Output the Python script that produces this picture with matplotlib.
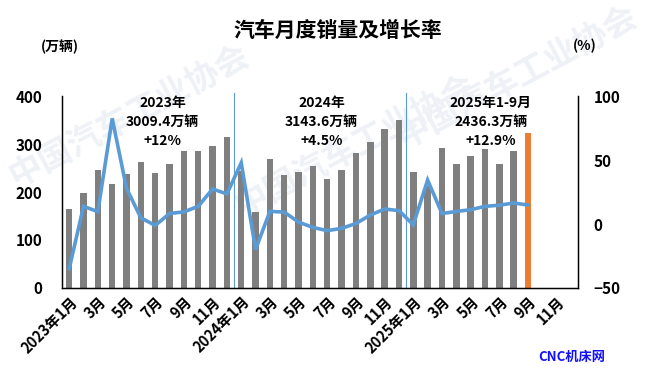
import matplotlib
matplotlib.use("Agg")
import matplotlib.pyplot as plt
import matplotlib.transforms as mtransforms
import numpy as np

plt.rcParams['font.family'] = ['Noto Sans CJK SC', 'DejaVu Sans']

# monthly sales (10k vehicles), 2023-01 .. 2025-09
sales = [164.9, 197.6, 245.1, 215.9, 238.2, 262.2, 238.7, 258.2, 285.8, 285.3, 297.0, 315.6,
         243.9, 158.4, 269.4, 235.9, 241.7, 255.2, 226.2, 245.3, 280.9, 305.3, 331.6, 349.9,
         242.3, 212.9, 291.5, 259.0, 274.8, 290.4, 259.3, 285.7, 322.6]
# year-on-year growth (%)
growth = [-35.0, 13.8, 9.7, 82.5, 27.9, 4.8, -1.1, 8.2, 9.5, 13.8, 27.4, 23.5,
          47.9, -19.9, 9.9, 9.3, 1.5, -2.7, -5.2, -3.4, 0.4, 7.0, 11.7, 10.5,
          -0.6, 34.4, 8.2, 9.8, 11.2, 13.8, 14.7, 16.4, 14.9]
n_months = 36
tick_labels = ['2023年1月', '3月', '5月', '7月', '9月', '11月',
               '2024年1月', '3月', '5月', '7月', '9月', '11月',
               '2025年1月', '3月', '5月', '7月', '9月', '11月']
year_notes = [('2023年', '3009.4万辆', '+12%'),
              ('2024年', '3143.6万辆', '+4.5%'),
              ('2025年1-9月', '2436.3万辆', '+12.9%')]
note_x = [6.5, 17.6, 29.4]
year_breaks = [11.5, 23.5]

fig = plt.figure(figsize=(6.46, 3.86), dpi=100)
ax = fig.add_axes([0.096, 0.254, 0.799, 0.497])
ax.patch.set_visible(False)
ax2 = ax.twinx()

# faint watermark behind the axes
for wx, wy in [(0.2, 0.7), (0.55, 0.62), (0.8, 0.8)]:
    fig.text(wx, wy, '中国汽车工业协会', fontsize=24, fontweight='bold', color='#eef1f6',
             rotation=28, ha='center', va='center', zorder=-1)

x = np.arange(len(sales))
colors = ['#7f7f7f'] * (len(sales) - 1) + ['#ed7d31']
ax.bar(x, sales, width=0.45, color=colors, zorder=2)
ax2.plot(x, growth, color='#5b9bd5', lw=2.6, solid_joinstyle='miter', zorder=3)

for b in year_breaks:
    ax.axvline(b, ymin=0, ymax=1.015, color='#5b9bd5', lw=0.8, clip_on=False, zorder=1)

ax.set_xlim(-0.5, n_months - 0.5)
ax.set_ylim(0, 400)
ax2.set_ylim(-50, 100)
ax.set_yticks([0, 100, 200, 300, 400])
ax2.set_yticks([-50, 0, 50, 100])

ax.set_xticks(np.arange(0, n_months, 2))
ax.set_xticklabels(tick_labels, rotation=45, ha='right', va='top',
                   rotation_mode='anchor', fontsize=10.5, fontweight='bold')
offset = mtransforms.ScaledTranslation(-10 / 100, 0, fig.dpi_scale_trans)
for lab in ax.get_xticklabels():
    lab.set_transform(lab.get_transform() + offset)

for a in (ax, ax2):
    a.tick_params(length=0)
    a.spines['top'].set_visible(False)
ax.tick_params(axis='y', pad=14, labelsize=11)
ax2.tick_params(axis='y', pad=11, labelsize=11)
ax.tick_params(axis='x', pad=4)
for lab in ax.get_yticklabels() + ax2.get_yticklabels():
    lab.set_fontweight('bold')
for s in ('left', 'bottom', 'right'):
    ax2.spines[s].set_color('black')
    ax2.spines[s].set_linewidth(1.0)

for xi, (l1, l2, l3) in zip(note_x, year_notes):
    ax.text(xi, 386, l1, ha='center', va='center', fontsize=10, fontweight='bold')
    ax.text(xi, 346, l2, ha='center', va='center', fontsize=10, fontweight='bold')
    ax.text(xi, 306, l3, ha='center', va='center', fontsize=10, fontweight='bold')

fig.text(0.523, 0.922, '汽车月度销量及增长率', ha='center', va='center',
         fontsize=15, fontweight='bold')
fig.text(0.093, 0.878, '(万辆)', ha='center', va='center', fontsize=10, fontweight='bold')
fig.text(0.905, 0.882, '(%)', ha='center', va='center', fontsize=10, fontweight='bold')
fig.text(0.885, 0.075, 'CNC机床网', ha='center', va='center', fontsize=9.5,
         fontweight='bold', color='#1010ff')

fig.savefig('out.png', dpi=100)
